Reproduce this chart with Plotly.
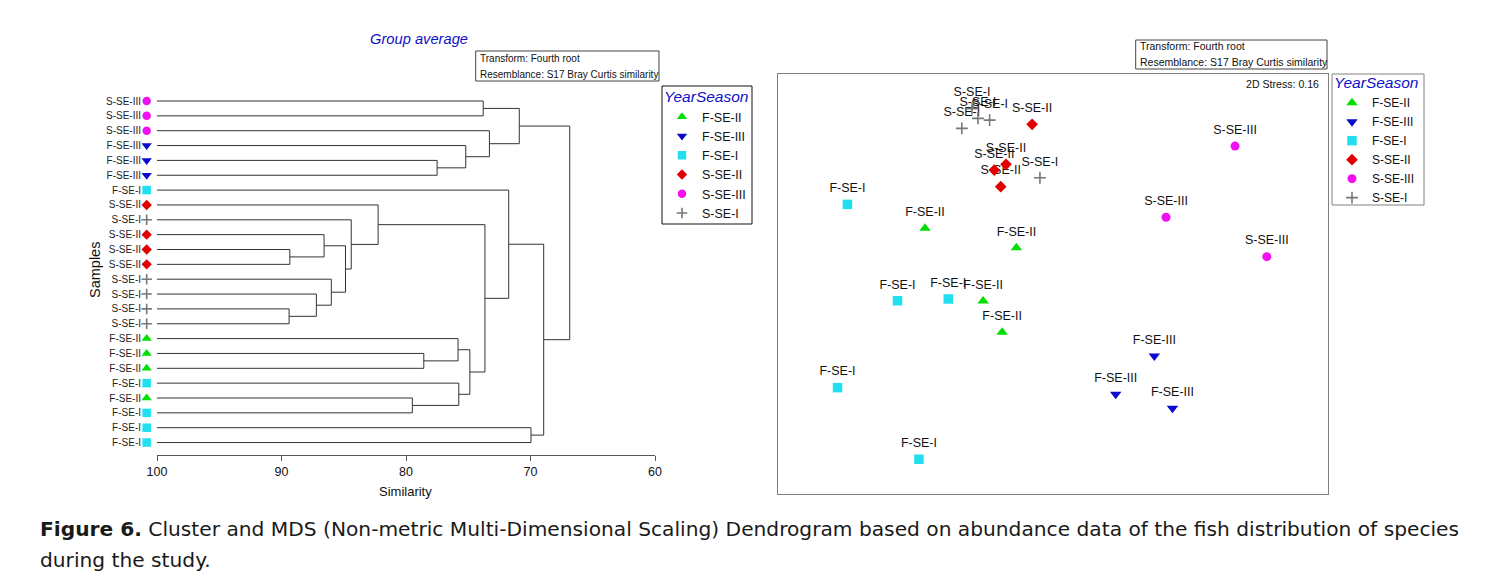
import plotly.graph_objects as go

# ---------------- data ----------------
groups = ["F-SE-II", "F-SE-III", "F-SE-I", "S-SE-II", "S-SE-III", "S-SE-I"]
group_colors = ["#00e000", "#0a0acd", "#20e0f0", "#e00000", "#f010f0", "#777777"]
group_symbols = ["triangle-up", "triangle-down", "square", "diamond", "circle", "cross-thin"]

# dendrogram leaves (top to bottom)
leaf_labels = ["S-SE-III", "S-SE-III", "S-SE-III", "F-SE-III", "F-SE-III", "F-SE-III",
               "F-SE-I", "S-SE-II", "S-SE-I", "S-SE-II", "S-SE-II", "S-SE-II",
               "S-SE-I", "S-SE-I", "S-SE-I", "S-SE-I", "F-SE-II", "F-SE-II",
               "F-SE-II", "F-SE-I", "F-SE-II", "F-SE-I", "F-SE-I", "F-SE-I"]

# merges: child a, child b (leaves 0..23, clusters 24+), similarity at merge
merge_a = [10, 14, 9, 13, 12, 26, 8, 7, 17, 16, 20, 19, 33, 31, 6, 22, 38, 4, 3, 2, 0, 44, 45]
merge_b = [11, 15, 24, 25, 27, 28, 29, 30, 18, 32, 21, 34, 35, 36, 37, 23, 39, 5, 41, 42, 1, 43, 40]
merge_sim = [89.33, 89.39, 86.58, 87.2, 86.0, 84.86, 84.4, 82.24, 78.57, 75.82, 79.49, 75.76,
             74.87, 73.66, 71.75, 69.96, 68.94, 77.5, 75.2, 73.3, 73.8, 70.9, 66.85]

sim_ticks = [100, 90, 80, 70, 60]

# MDS ordination coordinates
mds_group = ["F-SE-II", "F-SE-II", "F-SE-II", "F-SE-II",
             "F-SE-III", "F-SE-III", "F-SE-III",
             "F-SE-I", "F-SE-I", "F-SE-I", "F-SE-I", "F-SE-I",
             "S-SE-II", "S-SE-II", "S-SE-II", "S-SE-II",
             "S-SE-III", "S-SE-III", "S-SE-III",
             "S-SE-I", "S-SE-I", "S-SE-I", "S-SE-I", "S-SE-I"]
mds_x = [-0.931, -0.266, -0.508, -0.370,
         0.737, 0.456, 0.869,
         -1.495, -1.131, -0.762, -1.567, -0.975,
         -0.152, -0.342, -0.427, -0.380,
         1.324, 0.822, 1.555,
         -0.663, -0.546, -0.461, -0.589, -0.095]
mds_y = [0.406, 0.264, -0.124, -0.352,
         -0.524, -0.803, -0.905,
         0.580, -0.122, -0.109, -0.755, -1.277,
         1.163, 0.872, 0.830, 0.709,
         1.005, 0.486, 0.199,
         1.134, 1.207, 1.194, 1.278, 0.774]

# ---------------- helpers ----------------
W, H = 1508, 575
def px(x): return x / W
def py(y): return 1 - y / H

FONT = "Liberation Sans, Arial, sans-serif"
BLUE = "#1010c8"

fig = go.Figure()

# dendrogram links
n = len(leaf_labels)
node_x = [100.0] * n
node_y = [float(i + 1) for i in range(n)]
lx, ly = [], []
for a, b, s in zip(merge_a, merge_b, merge_sim):
    for c in (a, b):
        lx += [node_x[c], s, None]
        ly += [node_y[c], node_y[c], None]
    lx += [s, s, None]
    ly += [node_y[a], node_y[b], None]
    node_x.append(s)
    node_y.append((node_y[a] + node_y[b]) / 2)

fig.add_trace(go.Scatter(x=lx, y=ly, mode="lines", line=dict(color="#333333", width=1),
                         xaxis="x", yaxis="y", showlegend=False, hoverinfo="skip"))

dendro_sizes = {"triangle-up": 9, "triangle-down": 9, "square": 8.5, "diamond": 8,
                "circle": 8.5, "cross-thin": 7.5}
mds_sizes = {"triangle-up": 10, "triangle-down": 10, "square": 9.5, "diamond": 9,
             "circle": 9, "cross-thin": 8.5}

# leaf markers (legend2), on an invisible x axis with the same scale extended left
for g, col, sym in zip(groups, group_colors, group_symbols):
    ys = [i + 1 for i, lab in enumerate(leaf_labels) if lab == g]
    fig.add_trace(go.Scatter(
        x=[100.83] * len(ys), y=ys, mode="markers", name=g, legend="legend2",
        xaxis="x3", yaxis="y", hoverinfo="skip",
        marker=dict(symbol=sym, color=col, size=dendro_sizes[sym],
                    line=dict(color=col, width=1.6 if sym == "cross-thin" else 0))))

# MDS labels
for g in groups:
    idx = [i for i, gg in enumerate(mds_group) if gg == g]
    fig.add_trace(go.Scatter(
        x=[mds_x[i] for i in idx], y=[mds_y[i] for i in idx], mode="markers+text",
        text=[g] * len(idx), textposition="top center",
        textfont=dict(family=FONT, size=12.5, color="#111111"),
        marker=dict(size=13, opacity=0), xaxis="x2", yaxis="y2",
        showlegend=False, hoverinfo="skip", cliponaxis=False))

# MDS markers (legend)
for g, col, sym in zip(groups, group_colors, group_symbols):
    idx = [i for i, gg in enumerate(mds_group) if gg == g]
    fig.add_trace(go.Scatter(
        x=[mds_x[i] for i in idx], y=[mds_y[i] for i in idx], mode="markers", name=g,
        legend="legend", xaxis="x2", yaxis="y2", cliponaxis=False,
        marker=dict(symbol=sym, color=col, size=mds_sizes[sym],
                    line=dict(color=col, width=1.6 if sym == "cross-thin" else 0))))

# ---------------- axes ----------------
y_top_px, y_bot_px = 86, 455
leaf1_px, leaf_step = 101, 14.85
y_range_top = 1 + (y_top_px - leaf1_px) / leaf_step
y_range_bot = 1 + (y_bot_px - leaf1_px) / leaf_step

x0_px, x100_px, x60_px = 135, 157, 655
px_per_unit = (x60_px - x100_px) / 40.0
x3_left = 100 + (x100_px - x0_px) / px_per_unit

legend_title_font = dict(family=FONT, size=15.5, color=BLUE, style="italic")

fig.update_layout(
    width=W, height=H, autosize=False,
    margin=dict(l=0, r=0, t=0, b=0, pad=0),
    paper_bgcolor="white", plot_bgcolor="rgba(0,0,0,0)",
    font=dict(family=FONT, color="#111111"),
    xaxis=dict(domain=[px(x100_px), px(x60_px)], range=[100, 60], anchor="y",
               tickvals=sim_ticks, ticks="outside", ticklen=5, tickcolor="#555555",
               showline=True, linecolor="#555555", linewidth=1,
               showgrid=False, zeroline=False, automargin=False,
               tickfont=dict(family=FONT, size=12.5, color="#111111")),
    xaxis3=dict(domain=[px(x0_px), px(x60_px)], range=[x3_left, 60], anchor="y",
                visible=False, automargin=False),
    yaxis=dict(domain=[py(y_bot_px), py(y_top_px)], range=[y_range_bot, y_range_top],
               anchor="x", tickvals=list(range(1, n + 1)), ticktext=leaf_labels,
               ticks="outside", ticklen=13, tickcolor="rgba(0,0,0,0)", automargin=False,
               showline=False, showgrid=False, zeroline=False,
               tickfont=dict(family=FONT, size=10, color="#222222")),
    xaxis2=dict(domain=[px(778), px(1328)], range=[-2.0, 2.0], anchor="y2",
                showticklabels=False, ticks="", showgrid=False, zeroline=False, automargin=False,
                showline=True, mirror=True, linecolor="#808080", linewidth=1),
    yaxis2=dict(domain=[py(494), py(74)], range=[-1.53, 1.53], anchor="x2",
                showticklabels=False, ticks="", showgrid=False, zeroline=False, automargin=False,
                showline=True, mirror=True, linecolor="#808080", linewidth=1),
    legend=dict(x=px(1332), y=py(68), xanchor="left", yanchor="top",
                bgcolor="rgba(0,0,0,0)", borderwidth=0,
                font=dict(family=FONT, size=12, color="#111111"),
                title=dict(text="YearSeason", font=legend_title_font),
                tracegroupgap=0, itemsizing="trace"),
    legend2=dict(x=px(662), y=py(82), xanchor="left", yanchor="top",
                 bgcolor="rgba(0,0,0,0)", borderwidth=0,
                 font=dict(family=FONT, size=12.5, color="#111111"),
                 title=dict(text="YearSeason", font=legend_title_font),
                 tracegroupgap=0, itemsizing="trace"),
    showlegend=True,
)

# ---------------- boxes and texts ----------------
shapes = [
    dict(type="rect", xref="paper", yref="paper", x0=px(475.7), x1=px(659), y0=py(81), y1=py(51),
         line=dict(color="#444444", width=1), fillcolor="white", layer="above"),
    dict(type="rect", xref="paper", yref="paper", x0=px(1135.7), x1=px(1327), y0=py(69), y1=py(40),
         line=dict(color="#444444", width=1), fillcolor="white", layer="above"),
    # legend frames
    dict(type="rect", xref="paper", yref="paper", x0=px(662), x1=px(752), y0=py(224), y1=py(86),
         line=dict(color="#111111", width=1), fillcolor="white", layer="above"),
    dict(type="rect", xref="paper", yref="paper", x0=px(1332), x1=px(1424), y0=py(205), y1=py(74),
         line=dict(color="#808080", width=1), fillcolor="white", layer="above"),
]
fig.update_layout(shapes=shapes)

def ann(text, x, y, size, color="#111111", xanchor="left", style="normal", angle=0, family=FONT):
    fig.add_annotation(text=text, x=px(x), y=py(y), xref="paper", yref="paper",
                       xanchor=xanchor, yanchor="middle", showarrow=False, textangle=angle,
                       font=dict(family=family, size=size, color=color, style=style))

ann("Transform: Fourth root", 477.5, 58.3, 10)
ann("Resemblance: S17 Bray Curtis similarity", 477.5, 74.3, 10)
ann("Transform: Fourth root", 1137.5, 46, 10.5)
ann("Resemblance: S17 Bray Curtis similarity", 1137.5, 61.7, 10.5)
ann("2D Stress: 0.16", 1321, 84, 10.6, xanchor="right")
ann("Group average", 419, 39, 14.7, color=BLUE, xanchor="center", style="italic")
ann("Samples", 95, 270, 14.5, xanchor="center", angle=-90)
ann("Similarity", 405.7, 491.7, 13, xanchor="center")

CAP = "DejaVu Sans, Verdana, sans-serif"
ann("<b>Figure 6.</b> Cluster and MDS (Non-metric Multi-Dimensional Scaling) Dendrogram based on "
    "abundance data of the fish distribution of species", 38, 529, 20.2, color="#1a1a1a", family=CAP)
ann("during the study.", 38, 560, 20.2, color="#1a1a1a", family=CAP)

post = "document.body.style.margin='0px';document.body.style.overflow='hidden';"
fig.write_html("out.html", post_script=post,
               config={"displayModeBar": False, "responsive": False})
